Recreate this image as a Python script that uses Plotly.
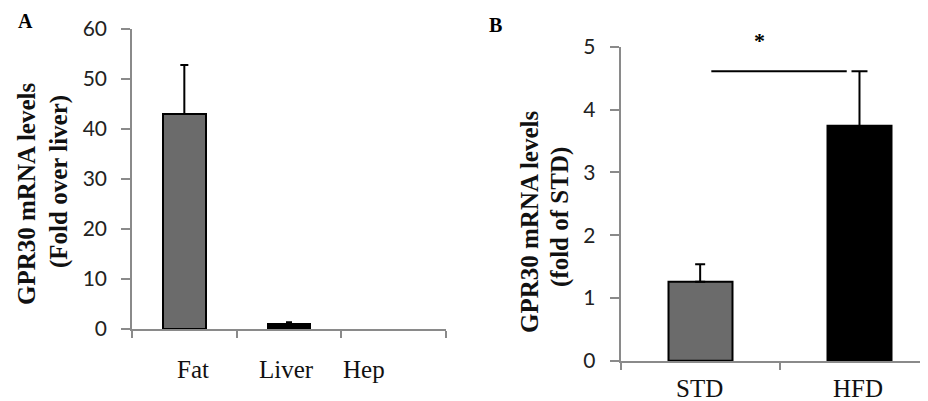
import plotly.graph_objects as go

# ---- Data ----
a_categories = ["Fat", "Liver", "Hep"]
a_values = [43.0, 1.0, 0.0]
a_errors = [9.8, 0.35, 0.0]
a_ticks = [0, 10, 20, 30, 40, 50, 60]

b_categories = ["STD", "HFD"]
b_values = [1.26, 3.74]
b_errors = [0.28, 0.87]
b_ticks = [0, 1, 2, 3, 4, 5]

# ---- Styles ----
a_colors = ["#6b6b6b", "#000000", "#6b6b6b"]
a_capw = [4, 3, 0]
b_colors = ["#6b6b6b", "#000000"]
b_capw = [5, 8]
a_label_shift = [9, -3, -30]
b_label_shift = [-1, -1]

W, H = 928, 401
OFF = 8  # page body margin offset
AXC = "#8a8a8a"
SERIF = "Liberation Serif"
SANS = "Lato"


def px(x):
    return (x - OFF) / W


def py(y):
    return (H - (y - OFF)) / H


fig = go.Figure()

for i, (c, v, e) in enumerate(zip(a_categories, a_values, a_errors)):
    fig.add_trace(go.Bar(
        x=[i], y=[v], width=0.41,
        marker=dict(color=a_colors[i], line=dict(color="black", width=2 if v > 0 else 0)),
        error_y=dict(type="data", symmetric=False, array=[e], arrayminus=[0],
                     color="black", thickness=2, width=a_capw[i], visible=e > 0),
        xaxis="x", yaxis="y", showlegend=False, name=c))

for i, (c, v, e) in enumerate(zip(b_categories, b_values, b_errors)):
    fig.add_trace(go.Bar(
        x=[i], y=[v], width=0.40,
        marker=dict(color=b_colors[i], line=dict(color="black", width=2)),
        error_y=dict(type="data", symmetric=False, array=[e], arrayminus=[0],
                     color="black", thickness=2, width=b_capw[i]),
        xaxis="x2", yaxis="y2", showlegend=False, name=c))

axis_common = dict(showline=True, linecolor=AXC, linewidth=1.5, ticks="outside",
                   tickcolor=AXC, tickwidth=1.5, showgrid=False, zeroline=False,
                   automargin=False)

fig.update_layout(
    template="none",
    width=W, height=H, margin=dict(l=0, r=0, t=0, b=0, pad=0),
    paper_bgcolor="white", plot_bgcolor="white", bargap=0,
    xaxis=dict(domain=[px(132), px(446)], range=[-0.5, len(a_categories) - 0.5],
               tickvals=[i - 0.5 for i in range(len(a_categories) + 1)],
               ticktext=[""] * (len(a_categories) + 1), ticklen=7,
               anchor="y", **axis_common),
    yaxis=dict(domain=[py(329), py(29)], range=[0, 60], tickvals=a_ticks, ticklen=9,
               ticklabelstandoff=10,
               tickfont=dict(family=SANS, size=21, color="#222"),
               anchor="x", **axis_common),
    xaxis2=dict(domain=[px(620.5), px(928)], range=[-0.5, 1.43],
                tickvals=[i - 0.5 for i in range(len(b_categories) + 1)],
                ticktext=[""] * (len(b_categories) + 1), ticklen=7,
                anchor="y2", **axis_common),
    yaxis2=dict(domain=[py(361), py(46.7)], range=[0, 5], tickvals=b_ticks, ticklen=9,
                ticklabelstandoff=10,
                tickfont=dict(family=SANS, size=21, color="#222"),
                anchor="x2", **axis_common),
)

ann = []
# category labels
for i, c in enumerate(a_categories):
    ann.append(dict(x=i, y=py(369), xref="x", yref="paper", text=c, showarrow=False,
                    xshift=a_label_shift[i], xanchor="center", yanchor="middle",
                    font=dict(family=SERIF, size=25, color="#111")))
for i, c in enumerate(b_categories):
    ann.append(dict(x=i, y=py(388), xref="x2", yref="paper", text=c, showarrow=False,
                    xshift=b_label_shift[i], xanchor="center", yanchor="middle",
                    font=dict(family=SERIF, size=25, color="#111")))
# y titles
titles = [
    ("<b>GPR30 mRNA levels</b>", 26, 194),
    ("<b>(Fold over liver)</b>", 59, 182),
    ("<b>GPR30 mRNA levels</b>", 529, 222),
    ("<b>(fold of STD)</b>", 560, 217),
]
for t, tx, ty in titles:
    ann.append(dict(x=px(tx), y=py(ty), xref="paper", yref="paper", text=t,
                    textangle=-90, showarrow=False, xanchor="center", yanchor="middle",
                    font=dict(family=SERIF, size=25, color="#111")))
# panel letters
ann.append(dict(x=px(25), y=py(21), xref="paper", yref="paper", text="<b>A</b>",
                xanchor="center", yanchor="middle",
                showarrow=False, font=dict(family=SERIF, size=20, color="black")))
ann.append(dict(x=px(495), y=py(25), xref="paper", yref="paper", text="<b>B</b>",
                xanchor="center", yanchor="middle",
                showarrow=False, font=dict(family=SERIF, size=20, color="black")))
# significance
sig_y = b_values[1] + b_errors[1]
ann.append(dict(x=0.37, y=sig_y, xref="x2", yref="y2", text="<b>*</b>", showarrow=False,
                xanchor="center", yanchor="middle",
                yshift=31, font=dict(family=SERIF, size=22, color="black")))
fig.update_layout(annotations=ann)
fig.add_shape(type="line", xref="x2", yref="y2", x0=0.07, x1=1 - 0.08, y0=sig_y, y1=sig_y,
              line=dict(color="black", width=2))

fig.write_html("out.html")
